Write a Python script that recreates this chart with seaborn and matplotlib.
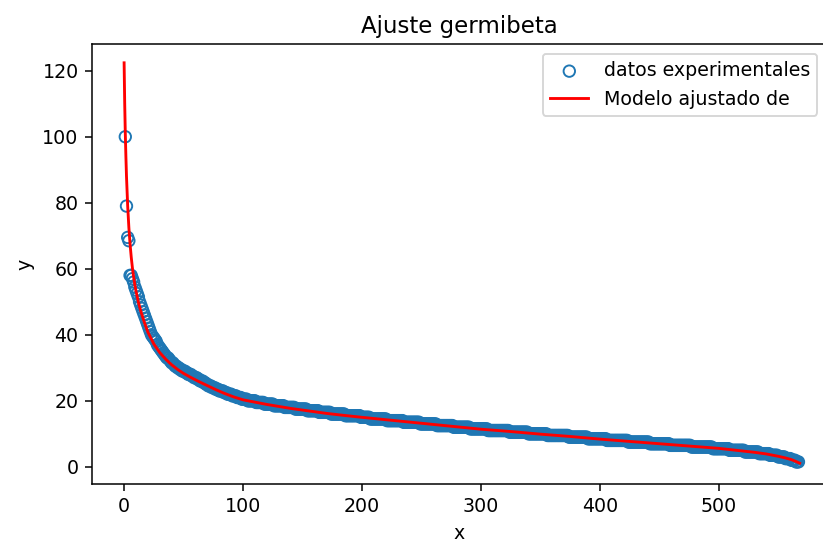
import matplotlib
matplotlib.use("Agg")
import matplotlib.pyplot as plt
import seaborn as sns

title = "Ajuste germibeta"
x_label = "x"
y_label = "y"
scatter_label = "datos experimentales"
line_label = "Modelo ajustado de"
x_ticks = [0, 100, 200, 300, 400, 500]
y_ticks = [0, 20, 40, 60, 80, 100, 120]

# experimental data (one value per x = 1, 2, 3, ...)
y_data = [
    100, 79, 69.5, 68.5, 58, 58, 57, 56, 54.5, 53.5,
    52.5, 51.5, 50, 49, 48, 47, 46, 45, 44, 43,
    42, 41, 40, 39.5, 39, 38.5, 38, 37, 36.5, 36,
    35.5, 35, 34.5, 34, 33.5, 33, 33, 32.5, 32, 31.5,
    31.5, 31, 30.5, 30.5, 30, 30, 29.5, 29.5, 29, 29,
    29, 28.5, 28.5, 28, 28, 28, 27.5, 27.5, 27, 27,
    27, 26.5, 26.5, 26, 26, 26, 25.5, 25.5, 25, 25,
    24.5, 24.5, 24.5,
    24, 24, 24,
    23.5, 23.5, 23.5,
    23, 23, 23, 23,
    22.5, 22.5, 22.5,
    22, 22, 22, 22,
    21.5, 21.5, 21.5, 21.5,
    21, 21, 21, 21,
    20.5, 20.5, 20.5, 20.5, 20.5,
    20, 20, 20, 20, 20, 20, 20,
    19.5, 19.5, 19.5, 19.5, 19.5, 19.5, 19.5,
    19, 19, 19, 19, 19, 19, 19, 19,
    18.5, 18.5, 18.5, 18.5, 18.5, 18.5, 18.5, 18.5, 18.5,
    18, 18, 18, 18, 18, 18, 18, 18, 18,
    17.5, 17.5, 17.5, 17.5, 17.5, 17.5, 17.5, 17.5, 17.5, 17.5,
    17, 17, 17, 17, 17, 17, 17, 17, 17, 17,
    16.5, 16.5, 16.5, 16.5, 16.5, 16.5, 16.5, 16.5, 16.5, 16.5,
    16, 16, 16, 16, 16, 16, 16, 16, 16, 16, 16, 16,
    15.5, 15.5, 15.5, 15.5, 15.5, 15.5, 15.5, 15.5, 15.5, 15.5, 15.5, 15.5, 15.5,
    15, 15, 15, 15, 15, 15, 15, 15,
    14.5, 14.5, 14.5, 14.5, 14.5, 14.5, 14.5, 14.5, 14.5, 14.5, 14.5, 14.5, 14.5, 14.5,
    14, 14, 14, 14, 14, 14, 14, 14, 14, 14, 14, 14, 14, 14,
    13.5, 13.5, 13.5, 13.5, 13.5, 13.5, 13.5, 13.5, 13.5, 13.5, 13.5, 13.5, 13.5, 13.5,
    13, 13, 13, 13, 13, 13, 13, 13, 13, 13, 13, 13, 13, 13,
    12.5, 12.5, 12.5, 12.5, 12.5, 12.5, 12.5, 12.5, 12.5, 12.5, 12.5, 12.5, 12.5, 12.5,
    12, 12, 12, 12, 12, 12, 12, 12, 12, 12, 12, 12, 12, 12,
    11.5, 11.5, 11.5, 11.5, 11.5, 11.5, 11.5, 11.5, 11.5, 11.5, 11.5, 11.5, 11.5, 11.5, 11.5,
    11, 11, 11, 11, 11, 11, 11, 11, 11, 11, 11, 11, 11, 11, 11, 11, 11, 11,
    10.5, 10.5, 10.5, 10.5, 10.5, 10.5, 10.5, 10.5, 10.5, 10.5, 10.5, 10.5, 10.5, 10.5, 10.5, 10.5,
    10, 10, 10, 10, 10, 10, 10, 10, 10, 10, 10, 10, 10, 10, 10, 10,
    9.5, 9.5, 9.5, 9.5, 9.5, 9.5, 9.5, 9.5, 9.5, 9.5, 9.5, 9.5, 9.5, 9.5, 9.5, 9.5, 9.5, 9.5,
    9, 9, 9, 9, 9, 9, 9, 9, 9, 9, 9, 9, 9, 9, 9, 9,
    8.5, 8.5, 8.5, 8.5, 8.5, 8.5, 8.5, 8.5, 8.5, 8.5, 8.5, 8.5, 8.5, 8.5, 8.5, 8.5,
    8, 8, 8, 8, 8, 8, 8, 8, 8, 8, 8, 8, 8, 8, 8, 8, 8, 8,
    7.5, 7.5, 7.5, 7.5, 7.5, 7.5, 7.5, 7.5, 7.5, 7.5, 7.5, 7.5, 7.5, 7.5, 7.5, 7.5, 7.5, 7.5,
    7, 7, 7, 7, 7, 7, 7, 7, 7, 7, 7, 7, 7, 7, 7, 7, 7,
    6.5, 6.5, 6.5, 6.5, 6.5, 6.5, 6.5, 6.5, 6.5, 6.5, 6.5, 6.5, 6.5, 6.5, 6.5, 6.5, 6.5, 6.5,
    6, 6, 6, 6, 6, 6, 6, 6, 6, 6, 6, 6, 6, 6, 6, 6, 6, 6,
    5.5, 5.5, 5.5, 5.5, 5.5, 5.5, 5.5, 5.5, 5.5, 5.5, 5.5, 5.5, 5.5, 5.5,
    5, 5, 5, 5, 5, 5, 5, 5, 5, 5, 5, 5, 5,
    4.5, 4.5, 4.5, 4.5, 4.5, 4.5, 4.5, 4.5, 4.5, 4.5, 4.5, 4.5,
    4, 4, 4, 4, 4, 4, 4, 4, 4,
    3.5, 3.5, 3.5, 3.5, 3.5, 3.5, 3.5,
    3, 3, 3, 3, 3, 3,
    2.5, 2.5, 2.5, 2.5, 2.5,
    2, 2, 2, 2,
    1.5, 1.5, 1.5,
]
x_data = list(range(1, len(y_data) + 1))

# fitted model curve
line_x = [0, 0.5, 1, 1.5, 2, 3, 4, 5, 6, 7, 8, 9, 10, 12, 14, 17, 20, 25, 30,
          35, 40, 45, 50, 56, 63, 70, 77, 84, 92, 100, 110, 120, 130, 140,
          150, 160, 170, 182, 200, 225, 250, 275, 300, 325, 350, 375, 400,
          425, 450, 475, 500, 515, 530, 540, 550, 556, 561, 565, 568]
line_y = [122.4, 110, 101, 94, 88, 79, 72.5, 67.5, 63.5, 60.2, 57.5, 55.2, 53.2,
          49.9, 47.2, 43.8, 40.8, 37.2, 34.6, 32.6, 30.9, 29.5, 28.3, 27.1,
          25.8, 24.6, 23.4, 22.3, 21.2, 20.3, 19.6, 18.9, 18.3, 17.7, 17.2,
          16.7, 16.2, 15.7, 15.0, 14.1, 13.2, 12.3, 11.4, 10.7, 9.9, 9.2, 8.4,
          7.7, 7.0, 6.3, 5.6, 5.0, 4.4, 3.9, 3.2, 2.7, 2.2, 1.6, 1.1]

DPI = 137.1667
fig = plt.figure(figsize=(823 / DPI, 543 / DPI), dpi=DPI)
ax = fig.add_axes([92 / 823, 59 / 543, 735 / 823, 440 / 543])

sns.scatterplot(x=x_data, y=y_data, ax=ax, marker="o", s=36,
                facecolor="none", edgecolor="#1f77b4", linewidth=1.0,
                label=scatter_label)
sns.lineplot(x=line_x, y=line_y, ax=ax, color="red", linewidth=1.5,
             label=line_label)

ax.set_xlim(-27, 591)
ax.set_ylim(-5.2, 128.1)
ax.set_xticks(x_ticks)
ax.set_yticks(y_ticks)
ax.set_title(title)
ax.set_xlabel(x_label)
ax.set_ylabel(y_label)
ax.legend(loc="upper right")

fig.savefig("out.png", dpi=DPI)
